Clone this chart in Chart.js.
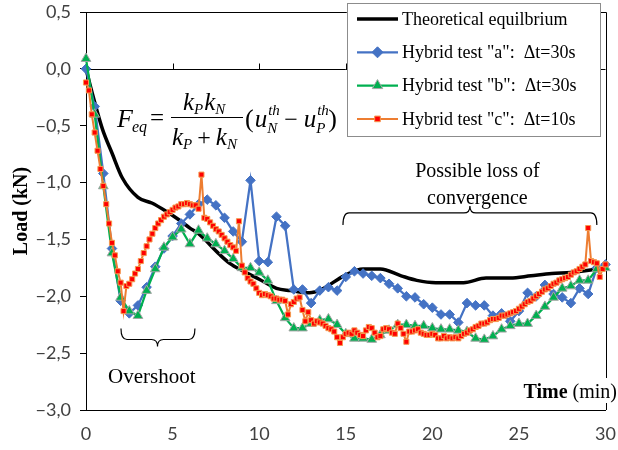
<!DOCTYPE html>
<html>
<head>
<meta charset="utf-8">
<script src="https://cdn.jsdelivr.net/npm/chart.js"></script>
<style>
  html, body { margin: 0; padding: 0; background: #fff; }
  canvas { display: block; }
</style>
</head>
<body>
<canvas id="chart" width="618" height="450"></canvas>
<script>
// ---- data -------------------------------------------------------------
const timeTicks = [0, 5, 10, 15, 20, 25, 30];          // min
const loadTicks = [0.5, 0, -0.5, -1, -1.5, -2, -2.5, -3]; // kN

// theoretical equilibrium force (time in min, load in kN)
const theoryTime = [0, 0.3, 0.95, 1.5, 2.1, 3.0, 3.8, 4.6, 5.3, 6.0, 6.5, 7.7, 8.3, 9.1, 10.0,
  11.0, 11.8, 12.9, 13.6, 14.9, 16.0, 17.0, 18.2, 19.1, 20.2, 21.8, 23.1, 24.5, 25.7, 26.9, 28.0, 29.6, 30];
const theoryLoad = [0, -0.18, -0.53, -0.74, -0.96, -1.13, -1.18, -1.25, -1.32, -1.40, -1.45, -1.63, -1.71, -1.78, -1.85,
  -1.93, -1.95, -1.97, -1.94, -1.82, -1.76, -1.76, -1.82, -1.86, -1.88, -1.88, -1.84, -1.84, -1.82, -1.80, -1.79, -1.76, -1.75];

// sampling steps of the hybrid tests, in minutes
const stepA = 0.5;    // 30 s
const stepB = 0.5;    // 30 s
const stepC = 1 / 6;  // 10 s

// hybrid test "a" (kN), one reading every 30 s
const loadA = [
  0.00, -0.33, -0.92, -1.58, -2.04, -2.15, -2.08, -1.92, -1.74, -1.58,
  -1.47, -1.36, -1.28, -1.19, -1.15, -1.20, -1.31, -1.43, -1.52, -0.98,
  -1.69, -1.70, -1.30, -1.38, -1.94, -1.94, -2.06, -1.95, -1.92, -1.95,
  -1.83, -1.78, -1.80, -1.82, -1.84, -1.89, -1.93, -2.00, -2.01, -2.07,
  -2.10, -2.16, -2.16, -2.23, -2.06, -2.08, -2.08, -2.17, -2.15, -2.22,
  -2.13, -1.97, -2.00, -1.90, -1.98, -2.01, -2.06, -1.93, -1.98, -1.75,
  -1.72];

// hybrid test "b" (kN), one reading every 30 s
const loadB = [
  0.09, -0.40, -1.03, -1.62, -2.01, -2.13, -2.17, -1.95, -1.76, -1.57,
  -1.48, -1.41, -1.54, -1.42, -1.49, -1.54, -1.60, -1.67, -1.75, -1.75,
  -1.79, -1.86, -2.04, -2.19, -2.28, -2.28, -2.24, -2.21, -2.20, -2.25,
  -2.33, -2.37, -2.37, -2.38, -2.34, -2.30, -2.25, -2.25, -2.26, -2.26,
  -2.28, -2.29, -2.29, -2.30, -2.31, -2.37, -2.38, -2.35, -2.29, -2.26,
  -2.24, -2.24, -2.17, -2.09, -2.01, -1.93, -1.91, -1.86, -1.86, -1.76,
  -1.75];

// hybrid test "c" (kN), one reading every 10 s
const loadC = [
  -0.12, -0.19, -0.40, -0.56, -0.72, -0.88, -1.03, -1.19, -1.36, -1.53,
  -1.64, -1.78, -1.88, -2.13, -1.91, -1.89, -1.85, -1.80, -1.76, -1.69,
  -1.62, -1.56, -1.50, -1.45, -1.40, -1.36, -1.33, -1.30, -1.28, -1.26,
  -1.24, -1.22, -1.21, -1.19, -1.19, -1.18, -1.19, -1.20, -1.20, -1.23,
  -0.93, -1.31, -1.32, -1.35, -1.38, -1.41, -1.43, -1.46, -1.49, -1.52,
  -1.55, -1.57, -1.60, -1.34, -1.73, -1.79, -1.84, -1.87, -1.89, -1.93,
  -1.97, -1.99, -1.98, -1.99, -2.00, -2.02, -2.02, -2.03, -2.03, -2.04,
  -2.16, -2.07, -2.05, -2.02, -2.01, -2.12, -2.22, -2.14, -2.21, -2.24,
  -2.22, -2.23, -2.24, -2.26, -2.28, -2.29, -2.31, -2.36, -2.41, -2.36,
  -2.33, -2.32, -2.33, -2.30, -2.32, -2.34, -2.35, -2.30, -2.27, -2.28,
  -2.32, -2.36, -2.35, -2.29, -2.28, -2.29, -2.32, -2.33, -2.24, -2.28,
  -2.33, -2.40, -2.31, -2.31, -2.30, -2.29, -2.32, -2.33, -2.34, -2.34,
  -2.33, -2.34, -2.37, -2.37, -2.35, -2.37, -2.36, -2.37, -2.36, -2.37,
  -2.35, -2.33, -2.32, -2.30, -2.29, -2.27, -2.26, -2.24, -2.24, -2.23,
  -2.21, -2.20, -2.20, -2.19, -2.17, -2.17, -2.16, -2.15, -2.14, -2.13,
  -2.11, -2.09, -2.07, -2.05, -2.04, -2.02, -2.00, -1.98, -1.96, -1.94,
  -1.93, -1.91, -1.89, -1.88, -1.86, -1.85, -1.84, -1.83, -1.81, -1.79,
  -1.78, -1.76, -1.74, -1.72, -1.40, -1.69, -1.70, -1.71, -1.83, -1.76,
  -1.72];

const seriesNames = [
  'Theoretical equilbrium',
  'Hybrid test "a":  \u0394t=30s',
  'Hybrid test "b":  \u0394t=30s',
  'Hybrid test "c":  \u0394t=10s'
];

// ---- helpers ----------------------------------------------------------
const SERIF = '"Liberation Serif", "Times New Roman", serif';
const SANS = 'Lato, "Open Sans", sans-serif';

const toPoints = (xs, ys) => ys.map((y, i) => ({ x: xs[i], y }));
const sampled = (ys, step) => ys.map((y, i) => ({ x: i * step, y }));
const fmtComma = v => {
  const s = Math.abs(Number(v)).toFixed(1).replace('.', ',');
  return Number(v) < 0 ? '\u2212' + s : s;
};

function marker(ctx, ds, x, y) {
  if (!ds.pointStyle || !ds.pointRadius) return;
  ctx.save();
  ctx.fillStyle = ds.pointBackgroundColor;
  ctx.strokeStyle = ds.pointBorderColor;
  ctx.lineWidth = ds.pointBorderWidth;
  Chart.helpers.drawPoint(ctx, {
    pointStyle: ds.pointStyle, rotation: 0,
    radius: ds.legendRadius || ds.pointRadius, borderWidth: ds.pointBorderWidth
  }, x, y);
  ctx.restore();
}

// curly brace between two x values; dir = -1 -> tips point down, middle up
function brace(ctx, x1, x2, xm, y, depth, dir) {
  const r = 6;
  ctx.beginPath();
  ctx.moveTo(x1, y - dir * depth);
  ctx.quadraticCurveTo(x1, y, x1 + r, y);
  ctx.lineTo(xm - r, y);
  ctx.quadraticCurveTo(xm, y, xm, y + dir * 7);
  ctx.quadraticCurveTo(xm, y, xm + r, y);
  ctx.lineTo(x2 - r, y);
  ctx.quadraticCurveTo(x2, y, x2, y - dir * depth);
  ctx.stroke();
}

function write(ctx, s, x, y, font) {
  ctx.font = font;
  ctx.fillText(s, x, y);
  return x + ctx.measureText(s).width;
}

// ---- decorations drawn around the plot -------------------------------
const decorations = {
  id: 'decorations',
  beforeDatasetsDraw(chart) {
    const { ctx, chartArea: a, scales: { x, y } } = chart;
    ctx.save();
    ctx.strokeStyle = '#000';
    ctx.lineWidth = 1;
    // frame: top and right edges
    ctx.beginPath();
    ctx.moveTo(a.left, Math.round(a.top) + 0.5);
    ctx.lineTo(Math.round(a.right) + 0.5, Math.round(a.top) + 0.5);
    ctx.lineTo(Math.round(a.right) + 0.5, a.bottom);
    ctx.stroke();
    // zero-load axis with upward tick marks
    const y0 = Math.round(y.getPixelForValue(0)) + 0.5;
    ctx.beginPath();
    ctx.moveTo(a.left, y0);
    ctx.lineTo(a.right, y0);
    timeTicks.forEach(t => {
      const px = Math.round(x.getPixelForValue(t)) + 0.5;
      ctx.moveTo(px, y0);
      ctx.lineTo(px, y0 - 6);
    });
    ctx.stroke();
    ctx.restore();
  },
  afterDatasetsDraw(chart) {
    const { ctx, scales: { x, y } } = chart;
    ctx.save();
    ctx.fillStyle = '#000';
    ctx.strokeStyle = '#000';
    ctx.textBaseline = 'alphabetic';

    // annotations
    ctx.lineWidth = 1.2;
    brace(ctx, x.getPixelForValue(14.84), x.getPixelForValue(29.5), x.getPixelForValue(22.17),
          y.getPixelForValue(-1.267), 12, -1);
    brace(ctx, x.getPixelForValue(2.02), x.getPixelForValue(6.29), x.getPixelForValue(4.13),
          y.getPixelForValue(-2.38), 11, 1);
    ctx.textAlign = 'center';
    ctx.font = '20px ' + SERIF;
    ctx.fillText('Possible loss of', x.getPixelForValue(22.6), y.getPixelForValue(-0.95));
    ctx.fillText('convergence', x.getPixelForValue(22.6), y.getPixelForValue(-1.19));
    ctx.font = '21px ' + SERIF;
    ctx.fillText('Overshoot', x.getPixelForValue(3.8), y.getPixelForValue(-2.76));

    // equilibrium force formula
    ctx.textAlign = 'left';
    const it = s => 'italic ' + s + 'px ' + SERIF;
    const rm = s => s + 'px ' + SERIF;
    let px = write(ctx, 'F', 117, 127, it(26));
    write(ctx, 'eq', px - 1, 132, it(16));
    write(ctx, '=', 150, 126, rm(25));
    // numerator
    px = write(ctx, 'k', 183, 110, it(25));
    px = write(ctx, 'P', px, 114, it(15));
    px = write(ctx, 'k', px + 1, 110, it(25));
    write(ctx, 'N', px, 114, it(15));
    ctx.lineWidth = 1;
    ctx.beginPath();
    ctx.moveTo(171, 117.5);
    ctx.lineTo(243, 117.5);
    ctx.stroke();
    // denominator
    px = write(ctx, 'k', 172, 145, it(25));
    px = write(ctx, 'P', px, 149, it(15));
    px = write(ctx, ' + ', px - 1, 145, rm(24));
    px = write(ctx, 'k', px - 1, 145, it(25));
    write(ctx, 'N', px, 149, it(15));
    // displacement difference
    px = write(ctx, '(', 245, 127, rm(26));
    px = write(ctx, 'u', px + 1, 127, it(25));
    write(ctx, 'th', px + 1, 115, it(15));
    px = write(ctx, 'N', px, 133, it(15));
    px = write(ctx, ' \u2212 ', px + 1, 127, rm(24));
    px = write(ctx, 'u', px, 127, it(25));
    write(ctx, 'th', px + 1, 115, it(15));
    px = write(ctx, 'P', px, 133, it(15));
    write(ctx, ')', px + 3, 127, rm(26));

    // time axis title sitting inside the frame
    ctx.fillStyle = '#fff';
    ctx.fillRect(519, 378, 99, 25);
    ctx.fillStyle = '#000';
    ctx.textAlign = 'right';
    ctx.font = '20px ' + SERIF;
    const wMin = ctx.measureText('(min)').width;
    ctx.fillText('(min)', 617, 398);
    ctx.font = 'bold 20px ' + SERIF;
    ctx.fillText('Time ', 617 - wMin, 398);

    // legend
    const bx = 347.5, by = 3.5, bw = 253, bh = 133;
    ctx.fillStyle = '#fff';
    ctx.fillRect(bx, by, bw, bh);
    ctx.strokeStyle = '#8c8c8c';
    ctx.lineWidth = 1;
    ctx.strokeRect(bx, by, bw, bh);
    ctx.textAlign = 'left';
    ctx.textBaseline = 'middle';
    ctx.font = '18px ' + SERIF;
    chart.data.datasets.forEach((ds, i) => {
      const ry = 19 + i * 33.3;
      ctx.strokeStyle = ds.borderColor;
      ctx.lineWidth = ds.borderWidth;
      ctx.beginPath();
      ctx.moveTo(357, ry);
      ctx.lineTo(398, ry);
      ctx.stroke();
      marker(ctx, ds, 377.5, ry);
      ctx.fillStyle = '#000';
      ctx.fillText(ds.label, 402, ry + 1);
    });
    ctx.restore();
  }
};

// ---- chart ------------------------------------------------------------
new Chart(document.getElementById('chart'), {
  type: 'line',
  data: {
    datasets: [
      {
        label: seriesNames[0], data: toPoints(theoryTime, theoryLoad),
        borderColor: '#000000', borderWidth: 3.5, pointRadius: 0,
        cubicInterpolationMode: 'monotone', order: 3, clip: false
      },
      {
        label: seriesNames[1], data: sampled(loadA, stepA),
        borderColor: '#4472C4', borderWidth: 2.25,
        pointStyle: 'rectRot', pointRadius: 4.8, legendRadius: 5.5,
        pointBackgroundColor: '#4472C4', pointBorderColor: '#4472C4', pointBorderWidth: 1,
        order: 2, clip: false
      },
      {
        label: seriesNames[2], data: sampled(loadB, stepB),
        borderColor: '#00B050', borderWidth: 2.25,
        pointStyle: 'triangle', pointRadius: 5.6, legendRadius: 6,
        pointBackgroundColor: '#00B050', pointBorderColor: '#A5A5A5', pointBorderWidth: 1,
        order: 1, clip: false
      },
      {
        label: seriesNames[3], data: sampled(loadC, stepC),
        borderColor: '#ED7D31', borderWidth: 2,
        pointStyle: 'rect', pointRadius: 3.6, legendRadius: 4,
        pointBackgroundColor: '#FF0000', pointBorderColor: '#F59A50', pointBorderWidth: 1,
        order: 0, clip: false
      }
    ]
  },
  options: {
    responsive: false,
    devicePixelRatio: 1,
    animation: false,
    events: [],
    layout: { padding: { top: 12, right: 12.5, bottom: 0, left: 0 } },
    plugins: { legend: { display: false }, tooltip: { enabled: false } },
    scales: {
      x: {
        type: 'linear', min: timeTicks[0], max: timeTicks[timeTicks.length - 1],
        afterBuildTicks: s => { s.ticks = timeTicks.map(v => ({ value: v })); },
        ticks: { color: '#404040', font: { family: SANS, size: 18 }, padding: 13, maxRotation: 0 },
        grid: { display: false, drawTicks: false },
        border: { display: true, color: '#000', width: 1 },
        afterFit: s => { s.height = 40; s.paddingLeft = 0; s.paddingRight = 0; }
      },
      y: {
        type: 'linear', min: loadTicks[loadTicks.length - 1], max: loadTicks[0],
        afterBuildTicks: s => { s.ticks = loadTicks.slice().reverse().map(v => ({ value: v })); },
        ticks: { color: '#404040', font: { family: SANS, size: 18 }, padding: 9, callback: fmtComma },
        grid: { drawOnChartArea: false, drawTicks: true, tickLength: 6, color: '#000', lineWidth: 1 },
        border: { display: true, color: '#000', width: 1 },
        title: {
          display: true, text: 'Load (kN)', color: '#000',
          font: { family: SERIF, size: 20, weight: 'bold' }, padding: { top: 10, bottom: 0 }
        },
        afterFit: s => { s.width = 86; s.paddingTop = 0; s.paddingBottom = 0; }
      }
    }
  },
  plugins: [decorations]
});
</script>
</body>
</html>
